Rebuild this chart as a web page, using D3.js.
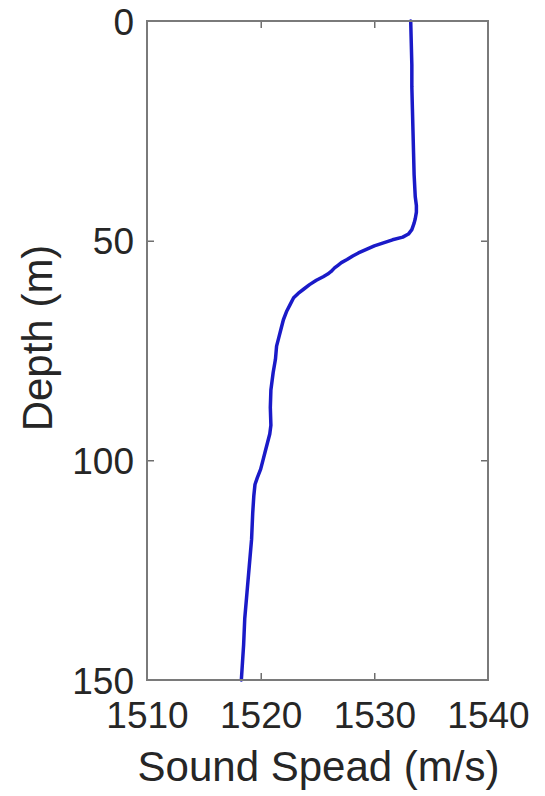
<!DOCTYPE html>
<html>
<head>
<meta charset="utf-8">
<script src="https://cdn.jsdelivr.net/npm/d3@7"></script>
<style>
  body { margin: 0; background: #fff; }
  text { font-family: "Liberation Sans", Arial, sans-serif; fill: #262626; }
</style>
</head>
<body>
<svg id="chart"></svg>
<script>
const width = 545;
const height = 796;
const margin = {top: 21, right: 57, bottom: 116, left: 147};

// depth (m) and sound speed (m/s)
const depths = [0, 5, 10, 15, 20, 25, 30, 35, 40, 42, 43.5, 45, 46, 47.5, 48.5, 49.2, 49.8,
  50.5, 51.2, 52, 52.8, 53.5, 54.3, 55, 55.6, 56.2, 57, 57.6, 58.2, 59, 60, 61, 62, 63,
  64.5, 66, 68, 70, 72, 74, 77, 80, 84, 88, 92, 94, 96, 98, 100, 102, 104, 105.5, 108,
  112, 118, 124, 130, 136, 142, 150];
const speeds = [1533.2, 1533.25, 1533.3, 1533.3, 1533.35, 1533.4, 1533.45, 1533.5, 1533.6,
  1533.7, 1533.7, 1533.6, 1533.5, 1533.3, 1533.0, 1532.5, 1531.6,
  1530.8, 1530.0, 1529.3, 1528.6, 1528.1, 1527.6, 1527.1, 1526.8, 1526.5, 1526.2, 1525.9,
  1525.5, 1524.9, 1524.3, 1523.8, 1523.3, 1522.9,
  1522.6, 1522.3, 1522.0, 1521.8, 1521.6, 1521.4, 1521.3, 1521.1, 1520.9, 1520.85, 1520.9,
  1520.8, 1520.6, 1520.4, 1520.2, 1520.0, 1519.7, 1519.5, 1519.4,
  1519.3, 1519.2, 1519.0, 1518.8, 1518.6, 1518.5, 1518.3];

const xTicks = [1510, 1520, 1530, 1540];
const yTicks = [0, 50, 100, 150];
const xLabel = 'Sound Spead (m/s)';
const yLabel = 'Depth (m)';

const svg = d3.select('#chart')
            .attr('width', width)
            .attr('height', height);

const x = d3.scaleLinear().domain([1510, 1540]).range([margin.left, width - margin.right]);
const y = d3.scaleLinear().domain([0, 150]).range([margin.top, height - margin.bottom]);

const data = depths.map((d, i) => ({depth: d, speed: speeds[i]}));

const line = d3.line()
    .x(d => x(d.speed))
    .y(d => y(d.depth));

svg.append('path')
    .datum(data)
    .attr('fill', 'none')
    .attr('stroke', '#1a1ac8')
    .attr('stroke-width', 3.5)
    .attr('stroke-linejoin', 'round')
    .attr('stroke-linecap', 'round')
    .attr('d', line);

const tickLen = 7;
const tickSize = 37;
const fmt = d3.format('d');

const xAxis = svg.append('g').attr('transform', `translate(0, ${y(150)})`)
    .call(d3.axisBottom(x).tickValues(xTicks).tickFormat(fmt).tickSizeInner(-tickLen).tickSizeOuter(0).tickPadding(22));
const xAxisTop = svg.append('g').attr('transform', `translate(0, ${y(0)})`)
    .call(d3.axisTop(x).tickValues(xTicks).tickSizeInner(-tickLen).tickSizeOuter(0).tickFormat(''));
const yAxis = svg.append('g').attr('transform', `translate(${x(1510)}, 0)`)
    .call(d3.axisLeft(y).tickValues(yTicks).tickFormat(fmt).tickSizeInner(-tickLen).tickSizeOuter(0).tickPadding(13));
const yAxisRight = svg.append('g').attr('transform', `translate(${x(1540)}, 0)`)
    .call(d3.axisRight(y).tickValues(yTicks).tickSizeInner(-tickLen).tickSizeOuter(0).tickFormat(''));

[xAxis, xAxisTop, yAxis, yAxisRight].forEach(g => {
    g.select('.domain').remove();
    g.selectAll('.tick line').attr('stroke', '#262626').attr('stroke-width', 1);
    g.selectAll('.tick text')
        .style('font-family', '"Liberation Sans", Arial, sans-serif')
        .style('font-size', tickSize + 'px')
        .attr('fill', '#262626');
});
yAxis.selectAll('.tick text').attr('dy', '0.36em');

// box around the axes
svg.append('rect')
    .attr('x', x(1510))
    .attr('y', y(0))
    .attr('width', x(1540) - x(1510))
    .attr('height', y(150) - y(0))
    .attr('fill', 'none')
    .attr('stroke', '#7a7a7a')
    .attr('stroke-width', 2);

svg.append('text')
    .attr('x', (x(1510) + x(1540)) / 2 + 1)
    .attr('y', 781)
    .attr('text-anchor', 'middle')
    .style('font-size', '42px')
    .text(xLabel);

svg.append('text')
    .attr('transform', `translate(52, 338) rotate(-90)`)
    .attr('text-anchor', 'middle')
    .style('font-size', '42px')
    .text(yLabel);
</script>
</body>
</html>
